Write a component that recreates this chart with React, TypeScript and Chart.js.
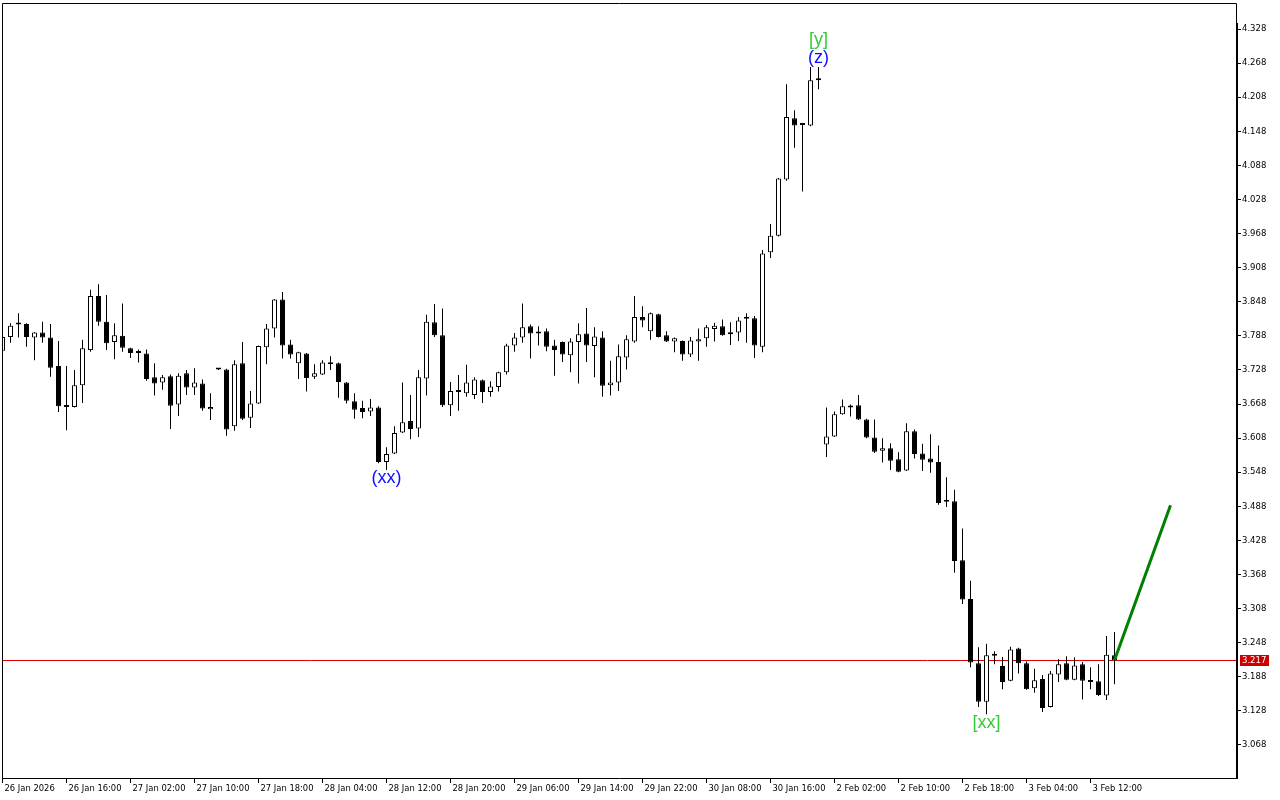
import React, { useEffect, useRef } from 'react';
import { Chart, registerables } from 'chart.js';

Chart.register(...registerables);

// ---- Candle data (H1) ----
const opens = [
  3.762, 3.786, 3.810, 3.809, 3.785, 3.794, 3.785, 3.735, 3.664, 3.663,
  3.701, 3.763, 3.858, 3.813, 3.777, 3.788, 3.766, 3.759, 3.757, 3.715,
  3.706, 3.717, 3.667, 3.722, 3.697, 3.704, 3.659, 3.729, 3.729, 3.629,
  3.740, 3.644, 3.669, 3.768, 3.801, 3.852, 3.773, 3.740, 3.757, 3.716,
  3.720, 3.740, 3.740, 3.706, 3.673, 3.661, 3.655, 3.662, 3.566, 3.581,
  3.618, 3.638, 3.625, 3.713, 3.812, 3.789, 3.666, 3.689, 3.687, 3.684,
  3.710, 3.689, 3.698, 3.724, 3.771, 3.785, 3.805, 3.794, 3.796, 3.771,
  3.777, 3.754, 3.777, 3.792, 3.770, 3.785, 3.701, 3.706, 3.750, 3.778,
  3.821, 3.796, 3.826, 3.789, 3.778, 3.779, 3.755, 3.778, 3.784, 3.800,
  3.805, 3.791, 3.794, 3.818, 3.819, 3.769, 3.935, 3.964, 4.063, 4.171,
  4.160, 4.158, 4.238, 3.597, 3.611, 3.650, 3.664, 3.666, 3.641, 3.609,
  3.586, 3.590, 3.571, 3.551, 3.620, 3.581, 3.572, 3.566, 3.497, 3.497,
  3.393, 3.325, 3.212, 3.144, 3.228, 3.207, 3.181, 3.238, 3.212, 3.168,
  3.184, 3.135, 3.192, 3.212, 3.183, 3.210, 3.182, 3.180, 3.155, 3.226,
];
const highs = [
  3.789, 3.810, 3.828, 3.810, 3.795, 3.813, 3.809, 3.779, 3.735, 3.728,
  3.781, 3.869, 3.879, 3.860, 3.810, 3.845, 3.767, 3.764, 3.764, 3.740,
  3.719, 3.720, 3.722, 3.728, 3.731, 3.711, 3.687, 3.730, 3.730, 3.745,
  3.777, 3.691, 3.771, 3.809, 3.853, 3.865, 3.781, 3.760, 3.758, 3.738,
  3.745, 3.752, 3.741, 3.707, 3.687, 3.674, 3.677, 3.664, 3.592, 3.629,
  3.706, 3.684, 3.728, 3.825, 3.844, 3.836, 3.707, 3.719, 3.737, 3.715,
  3.711, 3.708, 3.725, 3.774, 3.793, 3.845, 3.808, 3.805, 3.801, 3.781,
  3.778, 3.784, 3.810, 3.837, 3.803, 3.796, 3.744, 3.773, 3.789, 3.858,
  3.840, 3.829, 3.827, 3.796, 3.785, 3.780, 3.786, 3.801, 3.807, 3.811,
  3.817, 3.812, 3.821, 3.828, 3.823, 3.939, 3.985, 4.066, 4.231, 4.185,
  4.161, 4.261, 4.261, 3.662, 3.655, 3.676, 3.667, 3.684, 3.642, 3.641,
  3.608, 3.599, 3.583, 3.634, 3.623, 3.598, 3.615, 3.595, 3.539, 3.517,
  3.449, 3.357, 3.240, 3.246, 3.233, 3.223, 3.241, 3.239, 3.215, 3.202,
  3.191, 3.198, 3.219, 3.224, 3.222, 3.214, 3.205, 3.210, 3.260, 3.267,
];
const lows = [
  3.759, 3.776, 3.785, 3.769, 3.745, 3.776, 3.716, 3.654, 3.622, 3.662,
  3.670, 3.760, 3.806, 3.763, 3.747, 3.760, 3.749, 3.741, 3.709, 3.683,
  3.693, 3.624, 3.647, 3.684, 3.684, 3.656, 3.640, 3.728, 3.612, 3.621,
  3.640, 3.626, 3.668, 3.738, 3.785, 3.748, 3.748, 3.712, 3.690, 3.712,
  3.719, 3.728, 3.679, 3.669, 3.642, 3.643, 3.647, 3.564, 3.552, 3.580,
  3.617, 3.606, 3.610, 3.683, 3.786, 3.663, 3.647, 3.656, 3.681, 3.677,
  3.670, 3.681, 3.690, 3.720, 3.760, 3.776, 3.748, 3.771, 3.761, 3.718,
  3.742, 3.724, 3.704, 3.742, 3.715, 3.681, 3.683, 3.691, 3.729, 3.776,
  3.803, 3.781, 3.785, 3.777, 3.759, 3.744, 3.751, 3.744, 3.769, 3.778,
  3.788, 3.772, 3.779, 3.776, 3.749, 3.759, 3.925, 3.963, 4.061, 4.119,
  4.042, 4.157, 4.222, 3.575, 3.610, 3.649, 3.646, 3.640, 3.608, 3.582,
  3.565, 3.552, 3.548, 3.550, 3.572, 3.550, 3.547, 3.491, 3.487, 3.371,
  3.316, 3.205, 3.135, 3.122, 3.210, 3.166, 3.180, 3.194, 3.165, 3.160,
  3.126, 3.134, 3.179, 3.182, 3.182, 3.148, 3.166, 3.154, 3.147, 3.175,
];
const closes = [
  3.786, 3.806, 3.808, 3.786, 3.794, 3.785, 3.732, 3.664, 3.663, 3.701,
  3.766, 3.858, 3.813, 3.775, 3.789, 3.767, 3.758, 3.758, 3.712, 3.704,
  3.715, 3.665, 3.718, 3.697, 3.706, 3.660, 3.663, 3.729, 3.623, 3.738,
  3.642, 3.669, 3.770, 3.801, 3.852, 3.771, 3.755, 3.759, 3.714, 3.722,
  3.741, 3.738, 3.707, 3.674, 3.658, 3.654, 3.662, 3.566, 3.580, 3.617,
  3.636, 3.624, 3.715, 3.813, 3.789, 3.666, 3.691, 3.690, 3.706, 3.711,
  3.689, 3.699, 3.724, 3.771, 3.785, 3.803, 3.792, 3.792, 3.769, 3.763,
  3.755, 3.778, 3.791, 3.771, 3.787, 3.700, 3.706, 3.752, 3.782, 3.821,
  3.815, 3.828, 3.786, 3.778, 3.784, 3.755, 3.780, 3.782, 3.803, 3.806,
  3.789, 3.794, 3.815, 3.818, 3.771, 3.933, 3.964, 4.065, 4.173, 4.158,
  4.159, 4.238, 4.241, 3.611, 3.650, 3.664, 3.662, 3.641, 3.609, 3.584,
  3.590, 3.568, 3.549, 3.620, 3.580, 3.570, 3.565, 3.494, 3.496, 3.392,
  3.324, 3.213, 3.144, 3.226, 3.225, 3.179, 3.236, 3.212, 3.166, 3.182,
  3.133, 3.194, 3.210, 3.183, 3.208, 3.181, 3.179, 3.156, 3.227, 3.217,
];

// ---- Axis ticks ----
const xTickIndex = [0, 8, 16, 24, 32, 40, 48, 56, 64, 72, 80, 88, 96, 104, 112, 120, 128, 136];
const xTickLabels = [
  '26 Jan 2026', '26 Jan 16:00', '27 Jan 02:00', '27 Jan 10:00', '27 Jan 18:00',
  '28 Jan 04:00', '28 Jan 12:00', '28 Jan 20:00', '29 Jan 06:00', '29 Jan 14:00',
  '29 Jan 22:00', '30 Jan 08:00', '30 Jan 16:00', '2 Feb 02:00', '2 Feb 10:00',
  '2 Feb 18:00', '3 Feb 04:00', '3 Feb 12:00',
];
const yTickValues = [
  3.068, 3.128, 3.188, 3.248, 3.308, 3.368, 3.428, 3.488, 3.548, 3.608, 3.668,
  3.728, 3.788, 3.848, 3.908, 3.968, 4.028, 4.088, 4.148, 4.208, 4.268, 4.328,
];

// ---- Projection line (green) ----
const projIndex = [139, 146];
const projPrice = [3.217, 3.490];

// ---- Wave labels ----
const waveText = ['(xx)', '[xx]', '(z)', '[y]'];
const waveIndex = [48, 123, 102, 102];
const wavePrice = [3.537, 3.107, 4.277, 4.309];
const waveColor = ['#1010FF', '#32CD32', '#1010FF', '#32CD32'];

const X_MIN = -0.0625;
const X_MAX = 154.1875;
const Y_MIN = 3.0099;
const Y_MAX = 4.3738;

export default function App() {
  const canvasRef = useRef<HTMLCanvasElement | null>(null);

  useEffect(() => {
    document.body.style.margin = '0';
    const canvas = canvasRef.current;
    if (!canvas) return;

    const idx = opens.map((_, i) => i);
    const bodyData = idx.map((i) => ({
      x: i,
      y: [Math.min(opens[i], closes[i]), Math.max(opens[i], closes[i])],
    }));
    const wickData = idx.map((i) => ({ x: i, y: [lows[i], highs[i]] }));
    const bodyColors = idx.map((i) => (closes[i] >= opens[i] ? '#FFFFFF' : '#000000'));
    const projData = projIndex.map((x, i) => ({ x, y: projPrice[i] }));
    const lastPrice = closes[closes.length - 1];

    const bgPlugin = {
      id: 'bg',
      beforeDraw(chart: any) {
        const ctx = chart.ctx;
        ctx.save();
        ctx.fillStyle = '#FFFFFF';
        ctx.fillRect(0, 0, chart.width, chart.height);
        ctx.restore();
      },
    };

    const bidLinePlugin = {
      id: 'bidLine',
      beforeDatasetsDraw(chart: any) {
        const { ctx, chartArea } = chart;
        const y = Math.round(chart.scales.y.getPixelForValue(lastPrice)) + 0.5;
        ctx.save();
        ctx.strokeStyle = '#E00000';
        ctx.lineWidth = 1;
        ctx.beginPath();
        ctx.moveTo(chartArea.left, y);
        ctx.lineTo(chartArea.right, y);
        ctx.stroke();
        ctx.restore();
      },
      afterDraw(chart: any) {
        const { ctx, chartArea } = chart;
        const y = Math.round(chart.scales.y.getPixelForValue(lastPrice));
        ctx.save();
        ctx.fillStyle = '#CC0000';
        ctx.fillRect(chartArea.right + 4, y - 5, 29, 11);
        ctx.fillStyle = '#FFFFFF';
        ctx.font = '8.5px "DejaVu Sans"';
        ctx.textAlign = 'left';
        ctx.textBaseline = 'middle';
        ctx.fillText(lastPrice.toFixed(3), chartArea.right + 6, y + 0.5);
        ctx.restore();
      },
    };

    const framePlugin = {
      id: 'frame',
      afterDraw(chart: any) {
        const { ctx, chartArea } = chart;
        const l = Math.round(chartArea.left) + 0.5;
        const t = Math.round(chartArea.top) + 0.5;
        const r = Math.round(chartArea.right) + 0.5;
        const b = Math.round(chartArea.bottom) + 0.5;
        ctx.save();
        ctx.strokeStyle = '#000000';
        ctx.lineWidth = 1;
        ctx.beginPath();
        ctx.moveTo(l, b);
        ctx.lineTo(l, t);
        ctx.lineTo(r, t);
        ctx.lineTo(r, b);
        ctx.lineTo(l, b);
        ctx.stroke();
        ctx.fillStyle = '#000000';
        ctx.fillRect(Math.round(chartArea.right), Math.round(chartArea.top) + 20, 2, Math.round(chartArea.bottom - chartArea.top) - 19);
        ctx.restore();
      },
    };

    const waveLabelPlugin = {
      id: 'waveLabels',
      afterDatasetsDraw(chart: any) {
        const { ctx } = chart;
        const xs = chart.scales.x;
        const ys = chart.scales.y;
        ctx.save();
        ctx.font = '18px "Liberation Sans"';
        ctx.textAlign = 'center';
        ctx.textBaseline = 'middle';
        waveText.forEach((t, i) => {
          ctx.fillStyle = waveColor[i];
          ctx.fillText(t, xs.getPixelForValue(waveIndex[i]), ys.getPixelForValue(wavePrice[i]));
        });
        ctx.restore();
      },
    };

    const chart = new Chart(canvas, {
      type: 'bar',
      data: {
        datasets: [
          {
            type: 'line',
            data: projData,
            borderColor: '#008000',
            borderWidth: 3,
            pointRadius: 0,
            fill: false,
            order: 0,
          } as any,
          {
            type: 'bar',
            data: bodyData,
            backgroundColor: bodyColors,
            borderColor: '#000000',
            borderWidth: 1,
            borderSkipped: false,
            barThickness: 5,
            grouped: false,
            minBarLength: 2,
            inflateAmount: 0,
            order: 1,
          } as any,
          {
            type: 'bar',
            data: wickData,
            backgroundColor: '#000000',
            borderWidth: 0,
            barThickness: 1,
            grouped: false,
            inflateAmount: 0,
            order: 2,
          } as any,
        ],
      },
      options: {
        animation: false,
        responsive: false,
        devicePixelRatio: 1,
        events: [],
        layout: { padding: { left: 2, top: 3, right: 0, bottom: 0 } },
        plugins: {
          legend: { display: false },
          tooltip: { enabled: false },
        },
        scales: {
          x: {
            type: 'linear',
            min: X_MIN,
            max: X_MAX,
            offset: false,
            grid: {
              drawOnChartArea: false,
              drawTicks: true,
              tickLength: 5,
              color: '#000000',
              offset: false,
            },
            border: { display: false },
            ticks: {
              autoSkip: false,
              maxRotation: 0,
              minRotation: 0,
              align: 'start',
              labelOffset: 2,
              padding: 1,
              color: '#000000',
              font: { family: '"DejaVu Sans"', size: 8.4 },
              callback: (_v: any, i: number) => xTickLabels[i],
            },
            afterBuildTicks: (s: any) => {
              s.ticks = xTickIndex.map((v) => ({ value: v }));
            },
            afterFit: (s: any) => {
              s.height = 22;
              s.paddingLeft = 0;
              s.paddingRight = 0;
            },
          } as any,
          y: {
            type: 'linear',
            position: 'right',
            min: Y_MIN,
            max: Y_MAX,
            grid: {
              drawOnChartArea: false,
              drawTicks: true,
              tickLength: 5,
              color: '#000000',
            },
            border: { display: false },
            ticks: {
              autoSkip: false,
              padding: 1,
              color: '#000000',
              font: { family: '"DejaVu Sans"', size: 8.5 },
              callback: (v: any) => Number(v).toFixed(3),
            },
            afterBuildTicks: (s: any) => {
              s.ticks = yTickValues.map((v) => ({ value: v }));
            },
            afterFit: (s: any) => {
              s.width = 44;
              s.paddingTop = 0;
              s.paddingBottom = 0;
            },
          } as any,
        },
      } as any,
      plugins: [bgPlugin, bidLinePlugin, framePlugin, waveLabelPlugin],
    });

    return () => chart.destroy();
  }, []);

  return (
    <div style={{ width: 1280, height: 800 }}>
      <canvas ref={canvasRef} width={1280} height={800} style={{ display: 'block' }} />
    </div>
  );
}
